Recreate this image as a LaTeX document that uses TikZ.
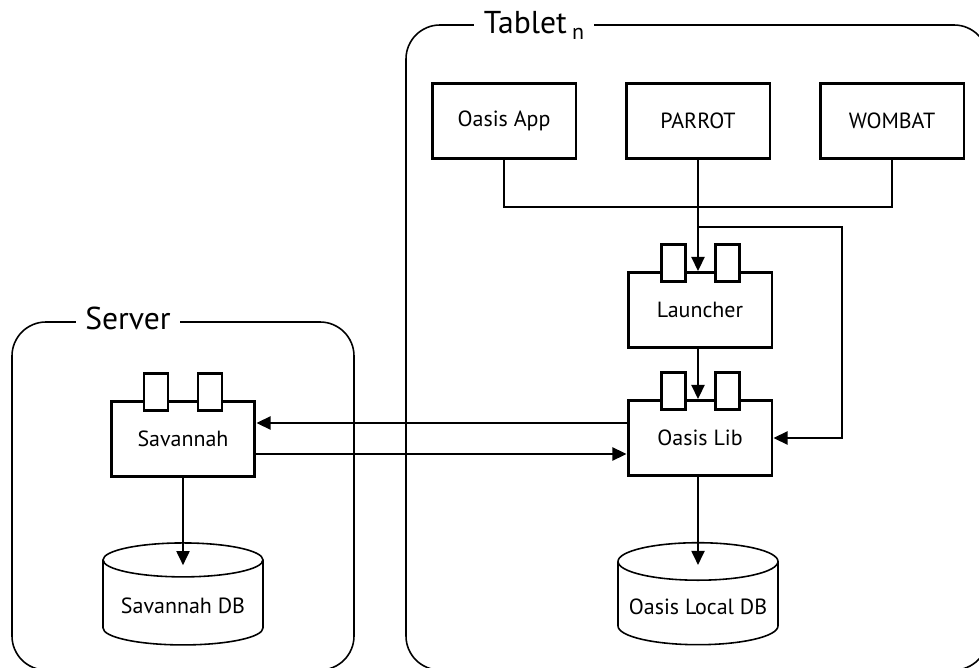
\documentclass[tikz,border=0pt]{standalone}
\usepackage{fontspec}
\setmainfont{PT Sans}
\usepackage{tikz}
\usetikzlibrary{arrows.meta}
\usetikzlibrary{calc}
\usetikzlibrary{positioning}
\usetikzlibrary{shapes.geometric}

\tikzset{
  comp/.style={draw, line width=1.7pt, fill=white, minimum width=2.88cm,
    minimum height=1.5cm, font=\fontsize{12.5pt}{15pt}\selectfont},
  port/.style={draw, line width=1.7pt, fill=white},
  dbase/.style={draw, line width=0.9pt, cylinder, shape border rotate=90,
    aspect=0.25, minimum width=3.2cm, minimum height=2.04cm,
    font=\fontsize{12.5pt}{15pt}\selectfont},
  frame/.style={draw, line width=0.9pt, rounded corners=0.68cm},
  title/.style={fill=white, inner xsep=5.5pt, inner ysep=1pt,
    font=\fontsize{18pt}{21pt}\selectfont},
  link/.style={line width=0.9pt},
  arr/.style={line width=0.9pt, -{Triangle[length=8pt,width=7.5pt]}}
}

\begin{document}
\begin{tikzpicture}[x=0.02cm, y=-0.02cm]

    \useasboundingbox (0, 0) rectangle (979, 668);
    \clip (0, 0) rectangle (979, 668);

    \draw [frame] (12, 322) rectangle (354, 670);
    \draw [frame] (406, 25) rectangle (988, 670);
    \node [title] (srvname) at (128, 318) {Server};
    \node [title] (tabname) at (534, 25)
      {Tablet\,\raisebox{-3.4pt}{\fontsize{12.5pt}{14pt}\selectfont n}};

    \node [comp] (app) at (504, 121) {Oasis App};
    \node [comp] (parrot) at (698, 121) {PARROT};
    \node [comp] (wombat) at (892, 121) {WOMBAT};
    \node [comp] (launch) at (700, 310) {Launcher};
    \node [comp] (lib) at (700, 438) {Oasis Lib};
    \node [comp] (sav) at (183, 439) {Savannah};
    \node [dbase] (savdb) at (183, 606) {Savannah DB};
    \node [dbase] (libdb) at (698, 607) {Oasis Local DB};

    \foreach \blk in {launch, lib, sav} {
      \draw [port] ($(\blk.north) + (-39, -27)$) rectangle +(24, 37);
      \draw [port] ($(\blk.north) + (15, -27)$) rectangle +(24, 37);
    }

    \coordinate (join) at (698, 207);
    \coordinate (fork) at (698, 227);
    \coordinate (bend) at (842, 227);

    \draw [link] (app.south) |- (join) -| (wombat.south);
    \draw [arr] (parrot.south) -- (launch.north -| parrot.south);
    \draw [arr] (fork) -- (bend) |- (lib.east);
    \draw [arr] (launch.south -| parrot.south) -- (lib.north -| parrot.south);

    \draw [arr] ($(lib.west) + (0, -15)$) -- ($(sav.east) + (0, -16)$);
    \draw [arr] ($(sav.east) + (0, 15)$) -- ($(lib.west) + (0, 16)$);

    \draw [arr] (sav.south) -- ($(savdb.top) + (0, 23)$);
    \draw [arr] (lib.south -| libdb.top) -- ($(libdb.top) + (0, 23)$);

  \end{tikzpicture}
\end{document}
